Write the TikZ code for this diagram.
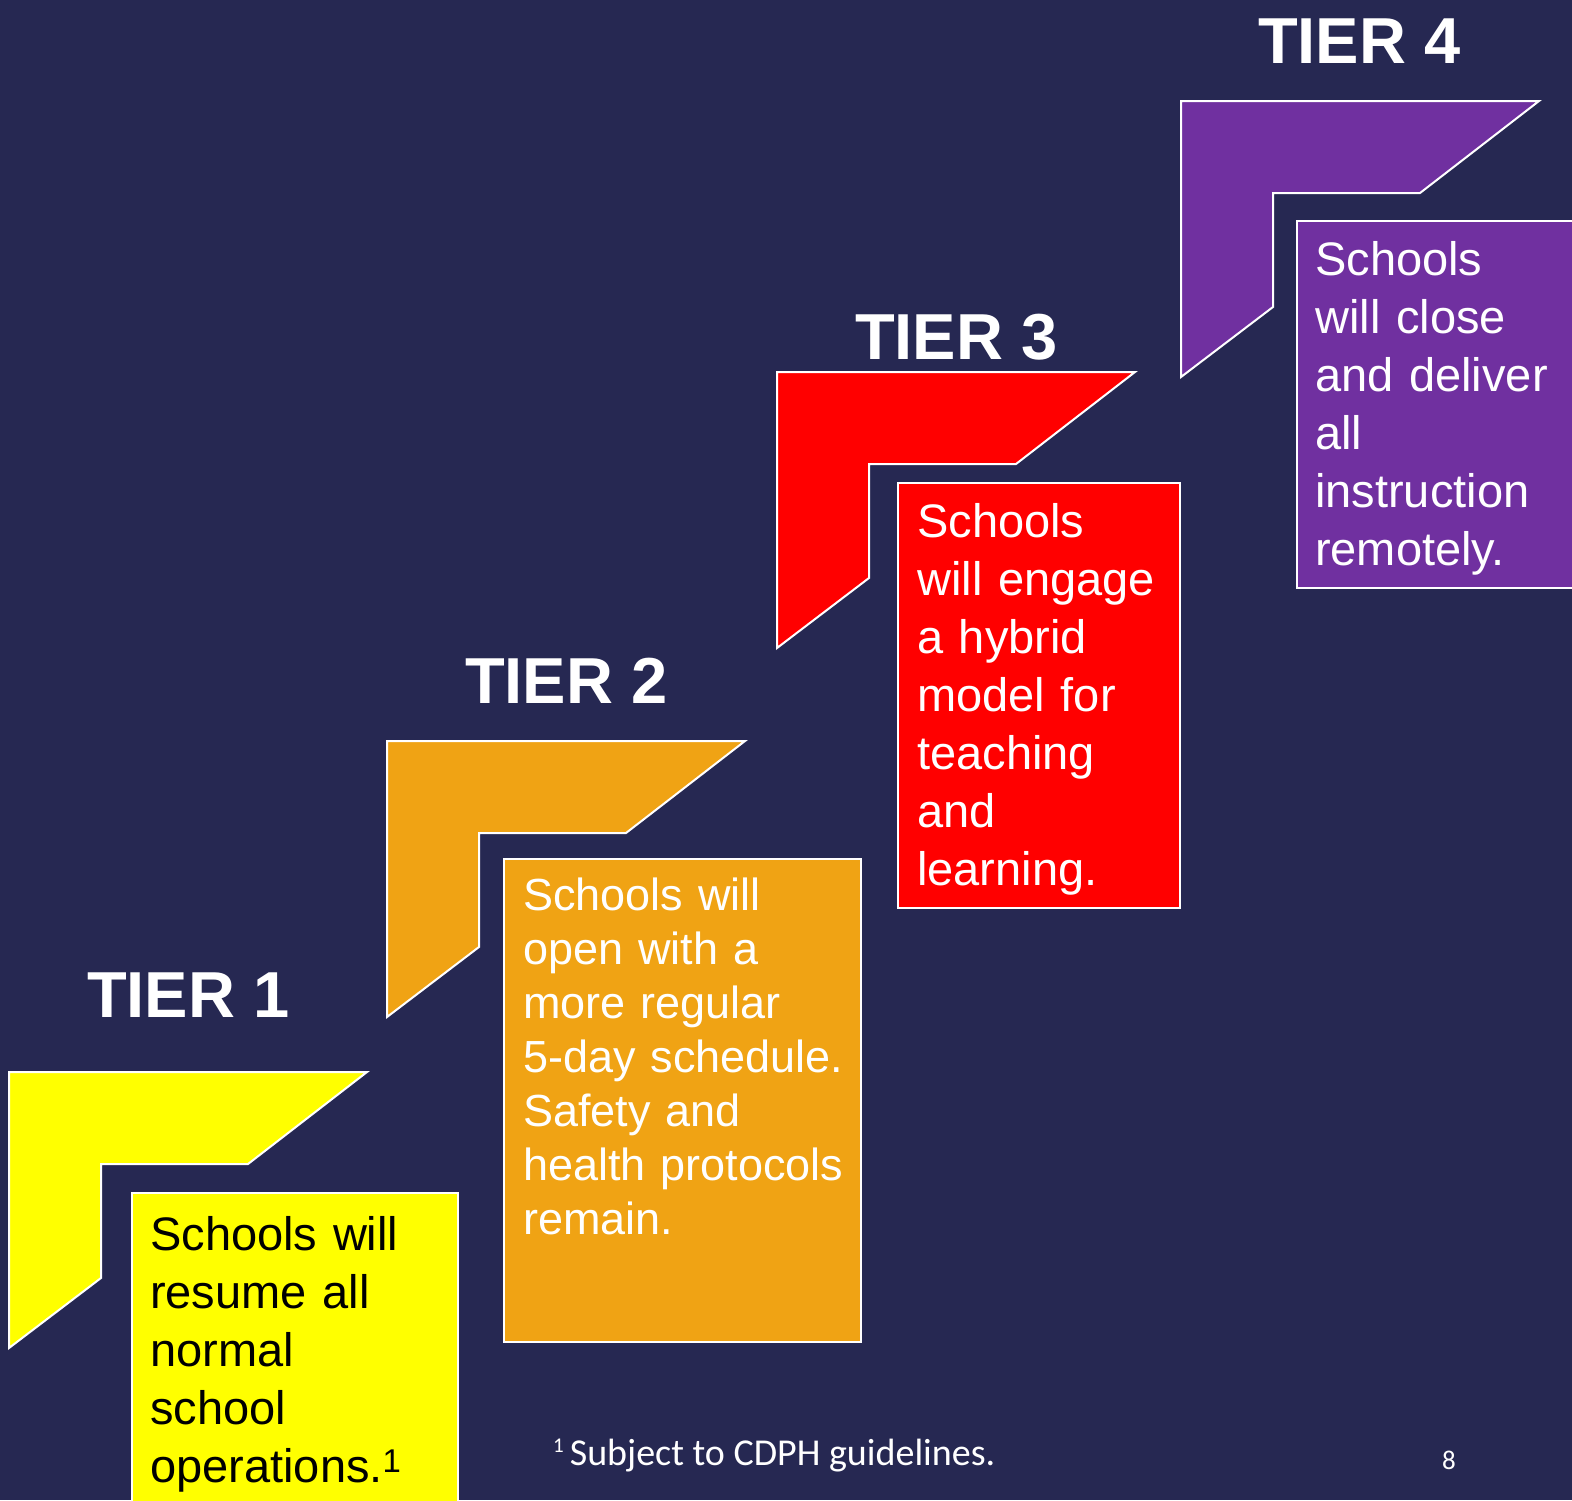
\documentclass[tikz,border=0pt]{standalone}
\usepackage{fontspec}
\setmainfont{Liberation Sans}
\newfontfamily\notefont{Carlito}
\definecolor{bg}{RGB}{38,40,82}
\definecolor{tyellow}{RGB}{255,255,0}
\definecolor{torange}{RGB}{240,163,20}
\definecolor{tred}{RGB}{255,0,0}
\definecolor{tpurple}{RGB}{112,48,160}
\tikzset{
  chev/.style={draw=white, line width=2pt, fill=#1},
  tbox/.style={draw=white, line width=2pt, fill=#1},
  tierlabel/.style={anchor=base west, inner sep=0pt, text=white, font=\fontsize{65}{70}\selectfont\bfseries},
  bodytext/.style={anchor=base west, inner sep=0pt, text width=420pt, align=left, font=\fontsize{47}{58}\selectfont},
  bodytextsmall/.style={anchor=base west, inner sep=0pt, text width=420pt, align=left, font=\fontsize{45}{54}\selectfont},
}
\newcommand\chevat[3]{\path[chev=#3] (#1,#2) -- ++(358,0) -- ++(-119,92) -- ++(-147,0) -- ++(0,114) -- ++(-92,70) -- cycle;}
\begin{document}
\begin{tikzpicture}[x=1pt,y=-1pt]
\path[use as bounding box, fill=bg] (0,0) rectangle (1572,1500);

% step shapes
\chevat{9}{1072}{tyellow}
\chevat{387}{741}{torange}
\chevat{777}{372}{tred}
\chevat{1181}{101}{tpurple}

% boxes
\path[tbox=tyellow] (132,1193) rectangle (458,1510);
\path[tbox=torange] (504,859) rectangle (861,1342);
\path[tbox=tred] (898,483) rectangle (1180,908);
\path[tbox=tpurple] (1297,221) rectangle (1590,588);

% tier labels
\node[tierlabel] (l1) at (87,1017) {TIER 1};
\node[tierlabel] (l2) at (465,703) {TIER 2};
\node[tierlabel] (l3) at (855,359) {TIER 3};
\node[tierlabel] (l4) at (1258,63) {TIER 4};

% box texts
\node[bodytext, text=black] (t1) at (150,1250) {Schools will\\resume all\\normal\\school\\operations.\textsuperscript{1}};
\node[bodytextsmall, text=white] (t2) at (523,910) {Schools will\\open with a\\more regular\\5-day schedule.\\Safety and\\health protocols\\remain.};
\node[bodytext, text=white] (t3) at (917,537) {Schools\\will engage\\a hybrid\\model for\\teaching\\and\\learning.};
\node[bodytext, text=white] (t4) at (1315,275) {Schools\\will close\\and deliver\\all\\instruction\\remotely.};

% footnote and page number
\node[anchor=base west, inner sep=0pt, text=white, font=\notefont\fontsize{38}{40}\selectfont] (fn) at (553,1465) {\raisebox{13pt}{\fontsize{21}{21}\selectfont 1}\hspace{6pt}Subject to CDPH guidelines.};
\node[anchor=base, inner sep=0pt, text=white, font=\notefont\fontsize{27}{28}\selectfont] (pg) at (1449,1469) {8};
\end{tikzpicture}
\end{document}
